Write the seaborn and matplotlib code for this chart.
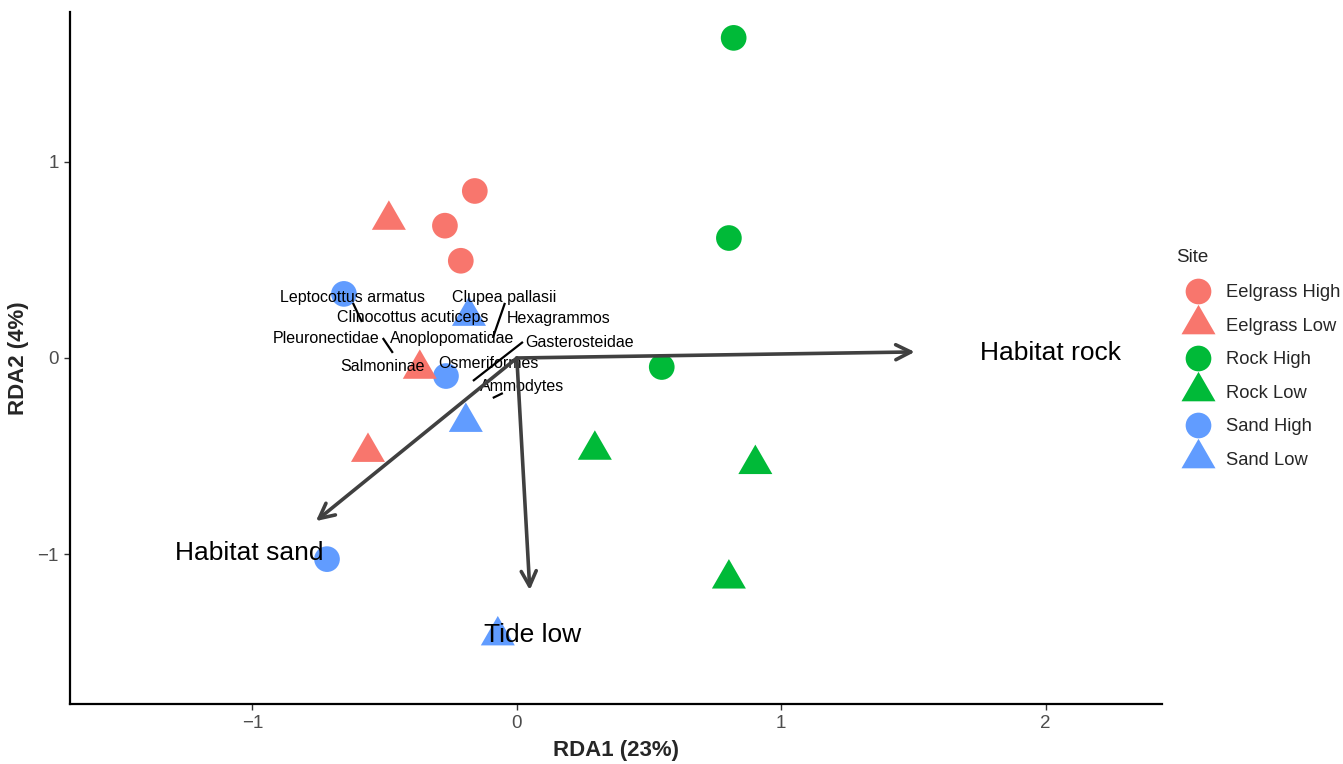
import numpy as np
import pandas as pd
import matplotlib
matplotlib.use("Agg")
import matplotlib.pyplot as plt
from matplotlib.lines import Line2D
import seaborn as sns

# ---------------- data ----------------
site_levels = ["Eelgrass High", "Eelgrass Low", "Rock High", "Rock Low", "Sand High", "Sand Low"]
site_colors = ["#F8766D", "#F8766D", "#00BA38", "#00BA38", "#619CFF", "#619CFF"]

sample_site = ["Eelgrass High"] * 3 + ["Eelgrass Low"] * 3 + ["Rock High"] * 3 + \
              ["Rock Low"] * 3 + ["Sand High"] * 3 + ["Sand Low"] * 3
sample_rda1 = [-0.159, -0.272, -0.212,
               -0.484, -0.367, -0.563,
               0.820, 0.802, 0.548,
               0.295, 0.902, 0.802,
               -0.654, -0.268, -0.718,
               -0.181, -0.193, -0.072]
sample_rda2 = [0.852, 0.675, 0.496,
               0.704, -0.056, -0.480,
               1.633, 0.612, -0.046,
               -0.469, -0.542, -1.126,
               0.327, -0.092, -1.026,
               0.214, -0.327, -1.416]

species = ["Leptocottus armatus", "Clinocottus acuticeps", "Clupea pallasii", "Hexagrammos",
           "Pleuronectidae", "Anoplopomatidae", "Gasterosteidae", "Salmoninae",
           "Osmeriformes", "Ammodytes"]
species_lab_x = [-0.620, -0.393, -0.049, 0.159, -0.722, -0.246, 0.238, -0.507, -0.106, 0.019]
species_lab_y = [0.311, 0.209, 0.311, 0.204, 0.102, 0.102, 0.077, -0.041, -0.026, -0.143]

# repel segments (label side -> point side)
seg_x0 = [-0.620, -0.045, -0.507, 0.023, -0.053]
seg_y0 = [0.281, 0.281, 0.102, 0.082, -0.179]
seg_x1 = [-0.586, -0.091, -0.469, -0.166, -0.091]
seg_y1 = [0.184, 0.102, 0.026, -0.117, -0.204]

env_names = ["Habitat rock", "Habitat sand", "Tide low"]
env_x = [1.505, -0.760, 0.049]
env_y = [0.031, -0.832, -1.184]
env_lab_x = [2.017, -1.013, 0.059]
env_lab_y = [0.026, -0.995, -1.413]

x_ticks = [-1, 0, 1, 2]
y_ticks = [-1, 0, 1]

# ---------------- plot ----------------
sns.set_theme(style="white")
plt.rcParams["font.family"] = ["Liberation Sans", "DejaVu Sans"]

fig = plt.figure(figsize=(13.43, 7.64), dpi=100)
ax = fig.add_axes([70 / 1343, 1 - 704 / 764, (1162 - 70) / 1343, (704 - 12) / 764])

df = pd.DataFrame({"Site": sample_site, "RDA1": sample_rda1, "RDA2": sample_rda2})
df["Shape"] = np.where(df["Site"].str.endswith("High"), "High", "Low")
palette = dict(zip(site_levels, site_colors))

tri = [(-1.0, -0.577), (1.0, -0.577), (0.0, 1.155)]

sns.scatterplot(data=df[df["Shape"] == "High"], x="RDA1", y="RDA2", hue="Site",
                palette=palette, marker="o", s=342, linewidth=0, legend=False, ax=ax, zorder=2)
sns.scatterplot(data=df[df["Shape"] == "Low"], x="RDA1", y="RDA2", hue="Site",
                palette=palette, marker=tri, s=800, linewidth=0, legend=False, ax=ax, zorder=2)

# species labels with segments
for x0, y0, x1, y1 in zip(seg_x0, seg_y0, seg_x1, seg_y1):
    ax.plot([x0, x1], [y0, y1], color="black", lw=1.6, zorder=3, solid_capstyle="butt")
for name, lx, ly in zip(species, species_lab_x, species_lab_y):
    ax.text(lx, ly, name, fontsize=11.5, ha="center", va="center", color="black", zorder=4)

# environmental arrows
for name, ex, ey, lx, ly in zip(env_names, env_x, env_y, env_lab_x, env_lab_y):
    ax.annotate("", xy=(ex, ey), xytext=(0, 0),
                arrowprops=dict(arrowstyle="->,head_length=0.9,head_width=0.45",
                                color="#404040", lw=2.6, shrinkA=0, shrinkB=0),
                zorder=5)
    ax.text(lx, ly, name, fontsize=19, ha="center", va="center", color="black", zorder=6)

ax.set_xlim(-1.69, 2.44)
ax.set_ylim(-1.765, 1.765)
ax.set_xticks(x_ticks)
ax.set_yticks(y_ticks)
ax.set_xticklabels(["\u22121", "0", "1", "2"])
ax.set_yticklabels(["\u22121", "0", "1"])
ax.tick_params(axis="both", which="both", direction="out", length=4, width=1,
               color="#333333", labelcolor="#4D4D4D", labelsize=13.5, pad=4,
               bottom=True, left=True)
for side in ["top", "right"]:
    ax.spines[side].set_visible(False)
for side in ["left", "bottom"]:
    ax.spines[side].set_color("black")
    ax.spines[side].set_linewidth(1.6)
ax.set_xlabel("RDA1 (23%)", fontsize=16, fontweight="bold", labelpad=6)
ax.set_ylabel("RDA2 (4%)", fontsize=16, fontweight="bold", labelpad=6)
ax.grid(False)

# legend
handles = []
for lvl, col in zip(site_levels, site_colors):
    if lvl.endswith("High"):
        h = Line2D([], [], marker="o", linestyle="none", markersize=18.5,
                   markerfacecolor=col, markeredgewidth=0)
    else:
        h = Line2D([], [], marker=tri, linestyle="none", markersize=28.3,
                   markerfacecolor=col, markeredgewidth=0)
    handles.append(h)
leg = fig.legend(handles, site_levels, title="Site", loc="upper left",
                 bbox_to_anchor=(1168.7 / 1343, 1 - 241.5 / 764), frameon=False,
                 fontsize=13.2, title_fontsize=13.5, labelspacing=0.9,
                 handlelength=2.4, handletextpad=0.33, borderaxespad=0)
leg._legend_box.align = "left"
leg._legend_box.sep = 0.9 * 13.2 + 1.5

fig.savefig("out.png", dpi=100)
